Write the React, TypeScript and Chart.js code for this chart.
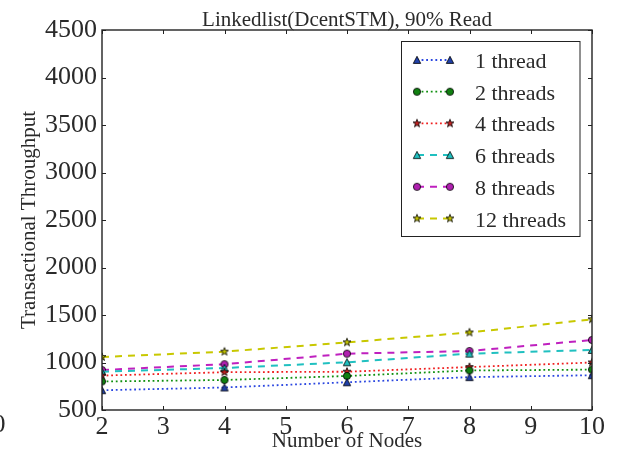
import React, { useEffect, useRef } from 'react';
import { Chart, registerables } from 'chart.js';

Chart.register(...registerables);

const nodes = [2, 4, 6, 8, 10];
const seriesNames = ['1 thread', '2 threads', '4 threads', '6 threads', '8 threads', '12 threads'];
const thread1 = [708, 737, 792, 846, 866];
const thread2 = [800, 816, 858, 916, 925];
const thread4 = [862, 898, 903, 952, 1000];
const thread6 = [903, 942, 1002, 1093, 1132];
const thread8 = [921, 982, 1093, 1121, 1237];
const thread12 = [1058, 1114, 1212, 1316, 1455];
const xTicks = [2, 3, 4, 5, 6, 7, 8, 9, 10];
const yTicks = [500, 1000, 1500, 2000, 2500, 3000, 3500, 4000, 4500];
const chartTitle = 'Linkedlist(DcentSTM), 90% Read';
const xTitle = 'Number of Nodes';
const yTitle = 'Transactional Throughput';

const FONT = "'Liberation Serif', 'Times New Roman', serif";
const TEXT = '#2a2a2a';

const lineColors = ['#2a46e0', '#109010', '#f02020', '#20c0c0', '#bf20bf', '#c8c800'];
const markerColors = ['#2040a8', '#108010', '#c02020', '#20bfbf', '#b020b0', '#c0c000'];
const markerShapes = ['triangle', 'circle', 'star', 'triangle', 'circle', 'star'];
const dotted = [1.8, 2.8];
const dashed = [7, 6];
const lineDashes = [dotted, dotted, dotted, dashed, dashed, dashed];

function makeMarker(shape: string, fill: string): HTMLCanvasElement {
  const c = document.createElement('canvas');
  const s = 12;
  c.width = s;
  c.height = s;
  const ctx = c.getContext('2d')!;
  ctx.translate(s / 2, s / 2);
  ctx.beginPath();
  if (shape === 'circle') {
    ctx.arc(0, 0, 3.6, 0, Math.PI * 2);
  } else if (shape === 'triangle') {
    ctx.moveTo(0, -3.7);
    ctx.lineTo(3.7, 3.4);
    ctx.lineTo(-3.7, 3.4);
    ctx.closePath();
  } else {
    const ro = 4.2;
    const ri = 1.7;
    for (let i = 0; i < 10; i++) {
      const r = i % 2 === 0 ? ro : ri;
      const a = -Math.PI / 2 + (i * Math.PI) / 5;
      const px = r * Math.cos(a);
      const py = r * Math.sin(a);
      if (i === 0) ctx.moveTo(px, py);
      else ctx.lineTo(px, py);
    }
    ctx.closePath();
  }
  ctx.fillStyle = fill;
  ctx.fill();
  ctx.lineWidth = 0.8;
  ctx.strokeStyle = '#000';
  ctx.stroke();
  return c;
}

export default function App() {
  const ref = useRef<HTMLCanvasElement | null>(null);

  useEffect(() => {
    const canvas = ref.current;
    if (!canvas) return;
    const allSeries = [thread1, thread2, thread4, thread6, thread8, thread12];
    const markers = markerShapes.map((s, i) => makeMarker(s, markerColors[i]));

    const datasets = allSeries.map((vals, i) => ({
      label: seriesNames[i],
      data: vals.map((v, j) => ({ x: nodes[j], y: v })),
      borderColor: lineColors[i],
      backgroundColor: markerColors[i],
      borderWidth: i < 3 ? 1.8 : 2,
      borderDash: lineDashes[i],
      pointStyle: markers[i],
      pointRadius: 4,
      tension: 0,
      clip: 0,
    }));

    const decor = {
      id: 'decor',
      afterDatasetsDraw(chart: any) {
        const { ctx, chartArea: a } = chart;
        const xs = chart.scales.x;
        const ys = chart.scales.y;
        ctx.save();
        // frame
        ctx.strokeStyle = '#222';
        ctx.lineWidth = 1.4;
        ctx.setLineDash([]);
        ctx.strokeRect(a.left, a.top, a.right - a.left, a.bottom - a.top);
        // inward ticks
        ctx.lineWidth = 1;
        ctx.beginPath();
        xTicks.forEach((v) => {
          const px = Math.round(xs.getPixelForValue(v)) + 0.5;
          ctx.moveTo(px, a.bottom);
          ctx.lineTo(px, a.bottom - 4);
          ctx.moveTo(px, a.top);
          ctx.lineTo(px, a.top + 4);
        });
        yTicks.forEach((v) => {
          const py = Math.round(ys.getPixelForValue(v)) + 0.5;
          ctx.moveTo(a.left, py);
          ctx.lineTo(a.left + 4, py);
          ctx.moveTo(a.right, py);
          ctx.lineTo(a.right - 4, py);
        });
        ctx.stroke();

        // legend
        const lx = 401.5;
        const ly = 41.5;
        const lw = 178.5;
        const lh = 195;
        ctx.fillStyle = '#fff';
        ctx.fillRect(lx, ly, lw, lh);
        ctx.strokeStyle = '#222';
        ctx.lineWidth = 1;
        ctx.strokeRect(lx, ly, lw, lh);
        seriesNames.forEach((name, i) => {
          const ry = 60 + i * 31.7;
          ctx.save();
          ctx.strokeStyle = lineColors[i];
          ctx.lineWidth = i < 3 ? 1.8 : 2;
          ctx.setLineDash(lineDashes[i]);
          ctx.beginPath();
          ctx.moveTo(417, ry);
          ctx.lineTo(450, ry);
          ctx.stroke();
          ctx.restore();
          ctx.drawImage(markers[i], 417 - 6, ry - 6);
          ctx.drawImage(markers[i], 450 - 6, ry - 6);
          ctx.fillStyle = TEXT;
          ctx.font = `22px ${FONT}`;
          ctx.textAlign = 'left';
          ctx.textBaseline = 'alphabetic';
          ctx.fillText(name, 475, ry + 8);
        });

        // texts
        const cx = (a.left + a.right) / 2;
        ctx.fillStyle = TEXT;
        ctx.textAlign = 'center';
        ctx.textBaseline = 'alphabetic';
        ctx.font = `21px ${FONT}`;
        ctx.fillText(chartTitle, cx, 26);
        ctx.fillText(xTitle, cx, 447);
        ctx.save();
        ctx.translate(35, (a.top + a.bottom) / 2);
        ctx.rotate(-Math.PI / 2);
        ctx.fillText(yTitle, 0, 0);
        ctx.restore();
        // partial label from neighbouring panel
        ctx.font = `26px ${FONT}`;
        ctx.fillText('0', -1, 432);
        ctx.restore();
      },
    };

    const chart = new Chart(canvas, {
      type: 'line',
      data: { datasets: datasets as any },
      options: {
        responsive: false,
        animation: false,
        events: [],
        layout: { padding: { top: 30, right: 27, left: 0, bottom: 0 } },
        plugins: {
          legend: { display: false },
          title: { display: false },
          tooltip: { enabled: false },
        },
        scales: {
          x: {
            type: 'linear',
            min: 2,
            max: 10,
            afterFit: (s: any) => {
              s.height = 48;
            },
            grid: { display: false, drawTicks: false },
            border: { display: false },
            ticks: {
              stepSize: 1,
              padding: 2,
              autoSkip: false,
              maxRotation: 0,
              color: TEXT,
              font: { family: FONT, size: 26 },
              callback: (v: any) => String(v),
            },
          },
          y: {
            type: 'linear',
            min: 500,
            max: 4500,
            afterFit: (s: any) => {
              s.width = 102;
            },
            grid: { display: false, drawTicks: false },
            border: { display: false },
            ticks: {
              stepSize: 500,
              padding: 5,
              color: TEXT,
              font: { family: FONT, size: 26 },
              callback: (v: any) => String(v),
            },
          },
        },
      },
      plugins: [decor],
    });
    return () => chart.destroy();
  }, []);

  return (
    <div style={{ position: 'absolute', left: 0, top: 0, width: 619, height: 458, background: '#fff' }}>
      <canvas ref={ref} width={619} height={458} style={{ display: 'block' }} />
    </div>
  );
}
